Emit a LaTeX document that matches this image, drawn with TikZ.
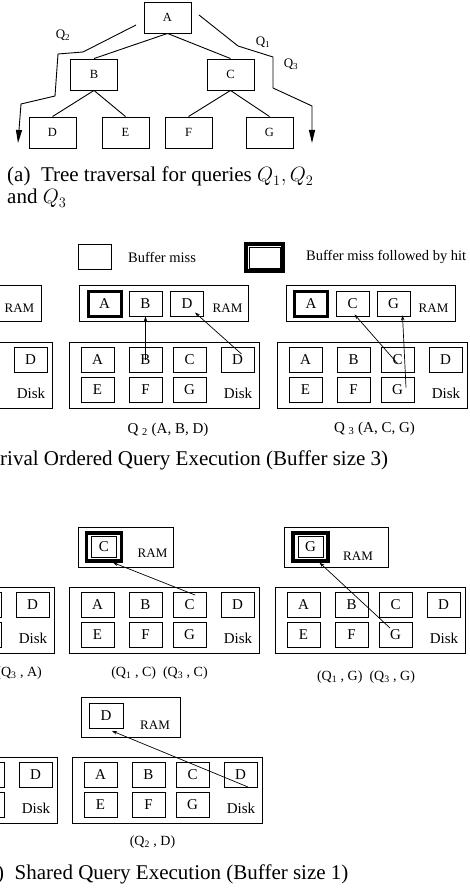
\documentclass[tikz,border=0pt]{standalone}
\usepackage{fontspec}
\setmainfont{Liberation Serif}
\usetikzlibrary{arrows.meta}

\tikzset{
  pg/.style={draw, line width=0.9pt, minimum width=33pt, minimum height=25pt,
    inner sep=0pt, font=\fontsize{15}{15}\selectfont},
  hitpg/.style={pg, line width=3pt},
  hitbox/.style={draw, line width=3.2pt, minimum width=35pt, minimum height=28pt, inner sep=0pt},
  hitcore/.style={pg, line width=0.8pt, minimum width=25pt, minimum height=21pt},
  bufframe/.style={draw, line width=0.9pt, inner sep=0pt},
  treenode/.style={draw, line width=0.9pt, minimum width=47pt, minimum height=31pt,
    inner sep=0pt, font=\fontsize{12.5}{12.5}\selectfont},
  lbl/.style={inner sep=0pt, font=\fontsize{13}{13}\selectfont},
  disklbl/.style={inner sep=0pt, font=\fontsize{15}{15}\selectfont},
  capt/.style={inner sep=0pt, anchor=base, font=\fontsize{15}{15}\selectfont},
  smallcapt/.style={capt, font=\fontsize{14}{14}\selectfont},
  bigcapt/.style={inner sep=0pt, anchor=base west, font=\fontsize{21}{22}\selectfont},
  fetch/.style={-{Stealth[length=5pt,width=3.5pt]}, line width=0.7pt},
  walk/.style={-{Triangle[length=13pt,width=6pt]}, line width=0.9pt},
}

% disk with pages A..G; #1 prefix, #2/#3 top left corner
\newcommand{\diskpages}[3]{%
  \node[bufframe, minimum width=190pt, minimum height=66pt] (#1) at (#2+95,#3+33) {};
  \foreach \p/\dx/\dy in {A/28.5/18, B/76.5/18, C/120.5/18, D/168.5/18,
                          E/28.5/48, F/76.5/48, G/120.5/48}
    \node[pg] (#1\p) at (#2+\dx,#3+\dy) {\p};
  \node[disklbl] at (#2+169,#3+51) {Disk};
}
% only the right end of a disk
\newcommand{\diskstub}[3]{%
  \node[bufframe, minimum width=190pt, minimum height=66pt] (#1) at (#2+95,#3+33) {};
  \node[pg] (#1C) at (#2+120.5,#3+18) {};
  \node[pg] (#1G) at (#2+120.5,#3+48) {};
  \node[pg] (#1D) at (#2+168.5,#3+18) {D};
  \node[disklbl] at (#2+169,#3+51) {Disk};
}

\begin{document}
\begin{tikzpicture}[x=1pt, y=-1pt]
  \useasboundingbox (0,0) rectangle (469,890);
  \clip (0,0) rectangle (469,890);

  % index tree
  \node[treenode] (A) at (167.5,17.5) {A};
  \node[treenode] (B) at (94,74.5) {B};
  \node[treenode] (C) at (230.5,74.5) {C};
  \node[treenode] (D) at (52.5,132.5) {D};
  \node[treenode] (E) at (125.5,132.5) {E};
  \node[treenode] (F) at (188.5,132.5) {F};
  \node[treenode] (G) at (269.5,132.5) {G};
  \draw[line width=0.9pt] (A.south) -- (B.north) (A.south) -- (C.north)
    (B.south) -- (D.north) (B.south) -- (E.north)
    (C.south) -- (F.north) (C.south) -- (G.north);

  % query walks
  \draw[walk] (136,25) -- (83,52) -- (58,54) -- (55,96) -- (21,104) -- (18,143);
  \draw[walk] (199,15) -- (238,46) -- (273,57) -- (273,88) -- (312,106) -- (312,143);
  \node[lbl] at (63,35) {Q\textsubscript{2}};
  \node[lbl] at (263,42) {Q\textsubscript{1}};
  \node[lbl] at (291,64) {Q\textsubscript{3}};

  \node[bigcapt] (capa) at (7,182) {(a)\enspace Tree traversal for queries $Q_1, Q_2$};
  \node[bigcapt] (capa2) at (7,204) {and $Q_3$};

  % legend
  \node[pg] (miss) at (94.5,256.5) {};
  \node[lbl, anchor=west, font=\fontsize{14.5}{14.5}\selectfont] at (128,257) {Buffer miss};
  \node[hitbox, line width=3.5pt, minimum width=37pt, minimum height=27pt] (hit) at (264.5,257.5) {};
  \node[hitcore, minimum width=31pt, minimum height=21pt] at (hit) {};
  \node[lbl, anchor=west, font=\fontsize{14.5}{14.5}\selectfont] at (306,257) {Buffer miss followed by hit};

  % arrival ordered, buffer size 3
  \node[bufframe, minimum width=169pt, minimum height=36pt] (q1ram) at (-43.5,303) {};
  \node[lbl] at (19.5,308) {RAM};
  \diskstub{q1d}{-138}{342}

  \node[bufframe, minimum width=169pt, minimum height=36pt] (q2ram) at (163.5,303) {};
  \node[hitpg] (q2rA) at (104.5,303.5) {A};
  \node[pg] (q2rB) at (145.5,303.5) {B};
  \node[pg] (q2rD) at (187,303.5) {D};
  \node[lbl] at (227.5,308) {RAM};
  \diskpages{q2d}{69}{342}
  \node[capt] at (168,433) {Q \textsubscript{2} (A, B, D)};

  \node[bufframe, minimum width=169pt, minimum height=36pt] (q3ram) at (370.5,303) {};
  \node[hitpg] (q3rA) at (311,303.5) {A};
  \node[pg] (q3rC) at (352.5,303.5) {C};
  \node[pg] (q3rG) at (393.5,303.5) {G};
  \node[lbl] at (433.5,308) {RAM};
  \diskpages{q3d}{277}{342}
  \node[capt] at (374.5,432) {Q \textsubscript{3} (A, C, G)};

  \draw[fetch] (q2dB.center) -- (q2rB.south);
  \draw[fetch] ([xshift=4pt,yshift=6pt]q2dD.center) -- ([xshift=8pt,yshift=-9pt]q2rD.center);
  \draw[fetch] ([yshift=-3.5pt]q3dC.center) -- ([xshift=2pt,yshift=2pt]q3rC.south);
  \draw[fetch] ([xshift=8.5pt,yshift=2.5pt]q3dG.center) -- ([xshift=9pt,yshift=1pt]q3rG.south);

  \node[bigcapt] (capb) at (0,465) {rival Ordered Query Execution (Buffer size 3)};

  % shared execution, buffer size 1
  \diskstub{s1d}{-136}{587}
  \node[smallcapt, anchor=base east] at (42,676) {(Q\textsubscript{3} , A)};

  \node[bufframe, minimum width=95pt, minimum height=40pt] (s2ram) at (125.5,547) {};
  \node[hitbox] (s2rC) at (104,547) {};
  \node[hitcore] at (s2rC) {C};
  \node[lbl] at (152.5,553) {RAM};
  \diskpages{s2d}{69}{587}
  \node[smallcapt] at (159.5,676) {(Q\textsubscript{1} , C)\ \ (Q\textsubscript{3} , C)};
  \draw[fetch] ([xshift=5.5pt,yshift=10pt]s2dC.center) -- ([xshift=9pt]s2rC.south);

  \node[bufframe, minimum width=104pt, minimum height=40pt] (s3ram) at (336,547) {};
  \node[hitbox] (s3rG) at (310.5,547) {};
  \node[hitcore] at (s3rG) {G};
  \node[lbl] at (358,556) {RAM};
  \diskpages{s3d}{275}{587}
  \node[smallcapt] at (366,680) {(Q\textsubscript{1} , G)\ \ (Q\textsubscript{3} , G)};
  \draw[fetch] ([xshift=-5.5pt,yshift=7pt]s3dG.center) -- ([xshift=9pt]s3rG.south);

  \diskstub{s4d}{-133}{757}
  \node[bufframe, minimum width=99pt, minimum height=40pt] (s5ram) at (130.5,717) {};
  \node[pg, minimum width=34pt] (s5rD) at (106,715.5) {D};
  \node[lbl] at (155,725) {RAM};
  \diskpages{s5d}{72}{757}
  \node[smallcapt] at (152.5,845) {(Q\textsubscript{2} , D)};
  \draw[fetch] ([xshift=7.5pt,yshift=-12pt]s5dD.center) -- ([xshift=6pt,yshift=-2.5pt]s5rD.south);

  \node[bigcapt] (capc) at (-3,879) {)\enspace Shared Query Execution (Buffer size 1)};
\end{tikzpicture}
\end{document}
